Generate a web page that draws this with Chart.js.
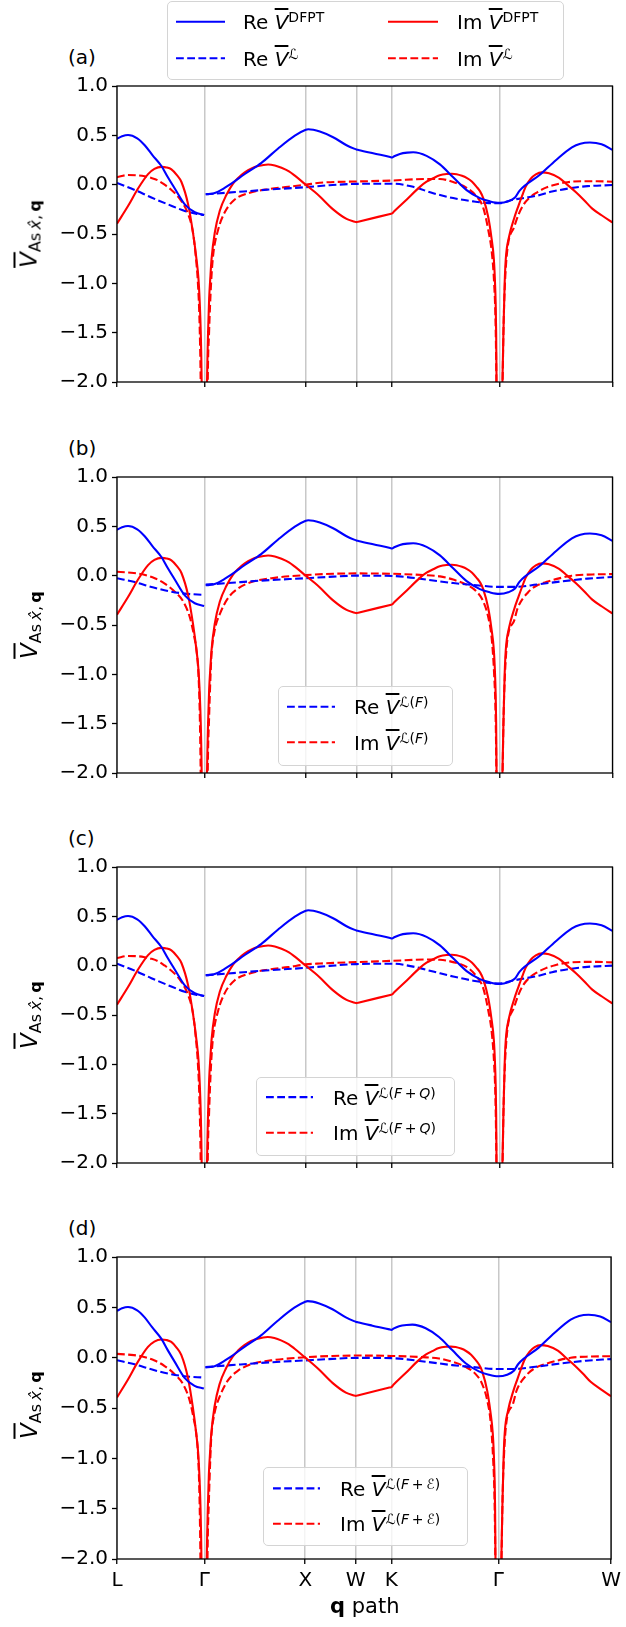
<!DOCTYPE html>
<html>
<head>
<meta charset="utf-8">
<script src="https://cdn.jsdelivr.net/npm/chart.js@4.4.1/dist/chart.umd.min.js"></script>
<style>
  html,body{margin:0;padding:0;background:#fff;}
  #page{position:relative;width:626px;height:1627px;overflow:hidden;background:#fff;font-family:"DejaVu Sans",sans-serif;color:#000;}
  canvas{position:absolute;left:0;}
  .t{position:absolute;white-space:nowrap;line-height:1;font-family:"DejaVu Sans",sans-serif;color:#000;}
  .ov{font-style:italic;text-decoration:overline;text-decoration-thickness:1.6px;}
  .t sup{font-size:0.7em;position:relative;top:-0.5em;vertical-align:baseline;line-height:0;}
  .t sub{font-size:0.7em;position:relative;top:0.25em;vertical-align:baseline;line-height:0;}
  .lg{position:absolute;background:rgba(255,255,255,0.8);border:1px solid #d4d4d4;border-radius:5px;box-sizing:border-box;}
  svg{position:absolute;left:0;top:0;pointer-events:none;}
</style>
</head>
<body>
<div id="page"></div>
<script>
// ---------------- data ----------------
const tickPos = [0, 0.866, 1.866, 2.366, 2.720, 3.780, 4.898];
const tickLabels = ['L', 'Γ', 'X', 'W', 'K', 'Γ', 'W'];
const yTicks = [-2.0, -1.5, -1.0, -0.5, 0.0, 0.5, 1.0];
const panelLetters = ['(a)', '(b)', '(c)', '(d)'];

// DFPT (same in every panel)  [q, value]; null = break at Γ
const reDfpt = [[0,0.465],[0.05,0.49],[0.109,0.503],[0.2,0.47],[0.274,0.40],[0.35,0.30],[0.439,0.189],[0.5,0.08],[0.571,-0.039],[0.67,-0.2],[0.769,-0.28],[0.861,-0.307],[0.866,null],
  [0.877,-0.097],[0.95,-0.09],[1.0,-0.071],[1.06,-0.035],[1.13,0.01],[1.263,0.108],[1.428,0.221],[1.593,0.367],[1.758,0.497],[1.866,0.556],[1.89,0.562],[2.005,0.539],[2.136,0.481],[2.269,0.40],[2.35,0.363],[2.366,0.357],[2.385,0.352],[2.532,0.318],[2.70,0.281],[2.72,0.276],[2.74,0.288],[2.796,0.312],[2.87,0.325],[2.928,0.328],[3.06,0.292],[3.192,0.205],[3.323,0.075],[3.456,-0.055],[3.587,-0.136],[3.686,-0.169],[3.78,-0.185],[3.867,-0.169],[3.934,-0.13],[3.98,-0.06],[4.18,0.10],[4.338,0.248],[4.497,0.378],[4.58,0.415],[4.675,0.427],[4.79,0.41],[4.898,0.353]];
const imDfpt = [[0,-0.395],[0.109,-0.217],[0.208,-0.039],[0.307,0.107],[0.37,0.16],[0.439,0.18],[0.49,0.175],[0.538,0.156],[0.59,0.1],[0.637,0.027],[0.703,-0.2],[0.752,-0.494],[0.785,-0.75],[0.805,-0.95],[0.818,-1.2],[0.828,-1.5],[0.837,-2.0],[0.845,-3.0],[0.866,null],
  [0.88,-3.0],[0.89,-2.0],[0.90,-1.5],[0.911,-1.15],[0.924,-0.92],[0.934,-0.76],[0.966,-0.49],[1.016,-0.265],[1.082,-0.103],[1.147,0.01],[1.2,0.07],[1.263,0.124],[1.33,0.165],[1.395,0.189],[1.494,0.205],[1.56,0.195],[1.626,0.172],[1.7,0.135],[1.758,0.091],[1.866,0.0],[1.95,-0.07],[2.005,-0.12],[2.136,-0.25],[2.269,-0.347],[2.35,-0.375],[2.366,-0.38],[2.385,-0.375],[2.70,-0.297],[2.72,-0.292],[2.74,-0.27],[2.862,-0.152],[2.994,-0.022],[3.06,0.03],[3.126,0.065],[3.19,0.095],[3.258,0.108],[3.31,0.11],[3.357,0.106],[3.41,0.09],[3.456,0.069],[3.51,0.03],[3.555,-0.022],[3.59,-0.07],[3.62,-0.136],[3.67,-0.33],[3.70,-0.526],[3.725,-0.753],[3.735,-0.95],[3.743,-1.2],[3.748,-1.5],[3.752,-2.0],[3.758,-3.0],[3.78,null],
  [3.798,-3.0],[3.81,-2.0],[3.822,-1.4],[3.832,-1.0],[3.843,-0.753],[3.876,-0.526],[3.926,-0.34],[3.97,-0.21],[4.0,-0.125],[4.04,-0.02],[4.09,0.06],[4.14,0.105],[4.2,0.125],[4.27,0.115],[4.37,0.07],[4.45,0.0],[4.537,-0.077],[4.62,-0.16],[4.695,-0.24],[4.79,-0.31],[4.898,-0.383]];

// (a) long-range model
const reLa = [[0,0.017],[0.175,-0.054],[0.34,-0.13],[0.505,-0.2],[0.67,-0.266],[0.78,-0.295],[0.861,-0.307],[0.866,null],
  [0.877,-0.097],[1.098,-0.081],[1.428,-0.055],[1.866,-0.025],[2.1,-0.006],[2.366,0.008],[2.72,0.01],[2.928,-0.022],[3.126,-0.087],[3.323,-0.136],[3.521,-0.169],[3.653,-0.185],[3.78,-0.188],[3.917,-0.152],[4.05,-0.13],[4.18,-0.105],[4.3,-0.07],[4.457,-0.04],[4.65,-0.015],[4.898,-0.004]];
const imLa = [[0,0.075],[0.109,0.098],[0.2,0.095],[0.274,0.085],[0.34,0.068],[0.406,0.043],[0.47,0.0],[0.538,-0.054],[0.59,-0.105],[0.637,-0.168],[0.703,-0.298],[0.752,-0.49],[0.778,-0.72],[0.80,-1.0],[0.816,-1.4],[0.827,-2.0],[0.835,-3.0],[0.866,null],
  [0.89,-3.0],[0.897,-2.0],[0.91,-1.5],[0.93,-1.0],[0.95,-0.72],[0.999,-0.46],[1.065,-0.28],[1.164,-0.15],[1.296,-0.087],[1.494,-0.045],[1.692,-0.022],[1.866,0.0],[2.005,0.02],[2.366,0.032],[2.72,0.042],[3.06,0.058],[3.192,0.058],[3.323,0.026],[3.456,-0.032],[3.555,-0.12],[3.62,-0.233],[3.67,-0.46],[3.705,-0.688],[3.728,-1.0],[3.742,-1.4],[3.75,-2.0],[3.756,-3.0],[3.78,null],
  [3.80,-3.0],[3.812,-2.0],[3.822,-1.4],[3.835,-1.0],[3.859,-0.655],[3.926,-0.428],[3.97,-0.3],[4.02,-0.2],[4.08,-0.13],[4.15,-0.08],[4.24,-0.03],[4.33,0.0],[4.45,0.025],[4.6,0.035],[4.75,0.035],[4.898,0.03]];

// (b) L(F)
const reLb = [[0,-0.026],[0.175,-0.065],[0.34,-0.114],[0.505,-0.156],[0.67,-0.182],[0.861,-0.195],[0.866,null],
  [0.877,-0.091],[1.098,-0.075],[1.428,-0.05],[1.866,-0.026],[2.136,-0.01],[2.366,0.0],[2.72,-0.003],[3.06,-0.04],[3.323,-0.075],[3.555,-0.097],[3.78,-0.114],[3.934,-0.114],[4.15,-0.09],[4.378,-0.06],[4.65,-0.03],[4.898,-0.013]];
const imLb = [[0,0.04],[0.109,0.032],[0.241,0.016],[0.373,-0.026],[0.472,-0.081],[0.571,-0.162],[0.654,-0.26],[0.72,-0.422],[0.763,-0.617],[0.785,-0.747],[0.805,-1.0],[0.818,-1.4],[0.827,-2.0],[0.835,-3.0],[0.866,null],
  [0.89,-3.0],[0.897,-2.0],[0.91,-1.45],[0.925,-1.0],[0.934,-0.8],[0.966,-0.552],[1.016,-0.39],[1.098,-0.227],[1.197,-0.13],[1.329,-0.065],[1.527,-0.026],[1.866,0.006],[2.136,0.019],[2.366,0.023],[2.72,0.019],[3.027,0.006],[3.192,-0.007],[3.323,-0.04],[3.456,-0.091],[3.555,-0.162],[3.62,-0.26],[3.67,-0.422],[3.705,-0.649],[3.728,-1.0],[3.742,-1.4],[3.75,-2.0],[3.756,-3.0],[3.78,null],
  [3.80,-3.0],[3.812,-2.0],[3.822,-1.4],[3.835,-1.0],[3.859,-0.649],[3.926,-0.455],[3.96,-0.33],[4.062,-0.17],[4.15,-0.1],[4.26,-0.06],[4.38,-0.025],[4.497,0.0],[4.7,0.012],[4.898,0.016]];

// (c) L(F+Q)
const reLc = [[0,0.02],[0.175,-0.05],[0.34,-0.127],[0.505,-0.198],[0.67,-0.264],[0.78,-0.294],[0.861,-0.307],[0.866,null],
  [0.877,-0.097],[1.098,-0.079],[1.428,-0.052],[1.866,-0.022],[2.1,-0.002],[2.366,0.016],[2.72,0.02],[2.928,-0.01],[3.126,-0.06],[3.323,-0.11],[3.521,-0.152],[3.653,-0.172],[3.78,-0.182],[3.917,-0.15],[4.05,-0.125],[4.18,-0.1],[4.3,-0.066],[4.457,-0.036],[4.65,-0.012],[4.898,0.0]];
const imLc = [[0,0.078],[0.109,0.098],[0.2,0.096],[0.274,0.086],[0.34,0.07],[0.406,0.045],[0.47,0.002],[0.538,-0.052],[0.59,-0.103],[0.637,-0.166],[0.703,-0.296],[0.752,-0.488],[0.778,-0.72],[0.80,-1.0],[0.816,-1.4],[0.827,-2.0],[0.835,-3.0],[0.866,null],
  [0.89,-3.0],[0.897,-2.0],[0.91,-1.5],[0.93,-1.0],[0.95,-0.72],[0.999,-0.46],[1.065,-0.278],[1.164,-0.148],[1.296,-0.084],[1.494,-0.04],[1.692,-0.015],[1.866,0.013],[2.005,0.022],[2.366,0.036],[2.72,0.049],[3.06,0.062],[3.192,0.06],[3.323,0.036],[3.456,-0.013],[3.555,-0.11],[3.62,-0.228],[3.67,-0.455],[3.705,-0.685],[3.728,-1.0],[3.742,-1.4],[3.75,-2.0],[3.756,-3.0],[3.78,null],
  [3.80,-3.0],[3.812,-2.0],[3.822,-1.4],[3.835,-1.0],[3.859,-0.65],[3.926,-0.42],[3.97,-0.29],[4.02,-0.19],[4.08,-0.12],[4.15,-0.07],[4.24,-0.025],[4.33,0.005],[4.45,0.03],[4.6,0.038],[4.75,0.038],[4.898,0.033]];

// (d) L(F+E)
const reLd = [[0,-0.026],[0.175,-0.066],[0.34,-0.116],[0.505,-0.158],[0.67,-0.184],[0.861,-0.198],[0.866,null],
  [0.877,-0.093],[1.098,-0.077],[1.428,-0.052],[1.866,-0.027],[2.136,-0.012],[2.366,-0.002],[2.72,-0.005],[3.06,-0.04],[3.323,-0.074],[3.555,-0.096],[3.78,-0.113],[3.934,-0.113],[4.15,-0.09],[4.378,-0.06],[4.65,-0.03],[4.898,-0.014]];
const imLd = [[0,0.038],[0.109,0.03],[0.241,0.014],[0.373,-0.028],[0.472,-0.083],[0.571,-0.164],[0.654,-0.262],[0.72,-0.424],[0.763,-0.62],[0.785,-0.75],[0.805,-1.0],[0.818,-1.4],[0.827,-2.0],[0.835,-3.0],[0.866,null],
  [0.89,-3.0],[0.897,-2.0],[0.91,-1.45],[0.925,-1.0],[0.934,-0.8],[0.966,-0.555],[1.016,-0.392],[1.098,-0.228],[1.197,-0.131],[1.329,-0.066],[1.527,-0.027],[1.866,0.004],[2.136,0.017],[2.366,0.021],[2.72,0.017],[3.027,0.005],[3.192,-0.008],[3.323,-0.041],[3.456,-0.092],[3.555,-0.163],[3.62,-0.262],[3.67,-0.424],[3.705,-0.65],[3.728,-1.0],[3.742,-1.4],[3.75,-2.0],[3.756,-3.0],[3.78,null],
  [3.80,-3.0],[3.812,-2.0],[3.822,-1.4],[3.835,-1.0],[3.859,-0.65],[3.926,-0.456],[3.96,-0.33],[4.062,-0.17],[4.15,-0.1],[4.26,-0.06],[4.38,-0.025],[4.497,0.0],[4.7,0.011],[4.898,0.015]];

// ---------------- layout ----------------
const BLUE = '#0000ff', RED = '#ff0000';
const DASH = [7.8, 3.4];
const LW = 2.1;
const plotLeft = 117, plotRight = 612.5, plotH = 308;
const panelTops = [80, 471, 861, 1251];
const panelDash = [[reLa, imLa], [reLb, imLb], [reLc, imLc], [reLd, imLd]];

const page = document.getElementById('page');

const framePlugin = {
  id: 'frame',
  afterDatasetsDraw(chart) {
    const a = chart.chartArea, ctx = chart.ctx;
    ctx.save();
    ctx.strokeStyle = '#000';
    ctx.lineWidth = 1.3;
    ctx.strokeRect(a.left, a.top, a.right - a.left, a.bottom - a.top);
    ctx.restore();
  }
};

function ds(pairs, color, dashed) {
  return {
    data: pairs.map(p => ({x: p[0], y: p[1]})),
    borderColor: color, borderWidth: LW, borderDash: dashed ? DASH : [],
    pointRadius: 0, cubicInterpolationMode: 'monotone', fill: false, spanGaps: false, clip: 0,
    borderCapStyle: 'butt', borderJoinStyle: 'round'
  };
}

function fmtY(v) {
  const s = Math.abs(v).toFixed(1);
  return (v < -1e-9 ? '\u2212' : '') + s;
}

panelTops.forEach((top, i) => {
  const last = i === 3;
  const bottomSpace = last ? 45 : 10;
  const cv = document.createElement('canvas');
  const H = 10 + plotH + bottomSpace;
  cv.width = 626; cv.height = H;
  cv.style.top = (top - 10) + 'px';
  cv.style.width = '626px'; cv.style.height = H + 'px';
  page.appendChild(cv);
  const [reL, imL] = panelDash[i];
  new Chart(cv.getContext('2d'), {
    type: 'line',
    data: { datasets: [
      ds(reDfpt, BLUE, false), ds(imDfpt, RED, false),
      ds(reL, BLUE, true), ds(imL, RED, true)
    ]},
    options: {
      responsive: false, animation: false, devicePixelRatio: 1,
      layout: { padding: { top: 10, right: 626 - plotRight, left: 0, bottom: 0 } },
      plugins: { legend: { display: false }, tooltip: { enabled: false } },
      scales: {
        x: {
          type: 'linear', min: tickPos[0], max: tickPos[tickPos.length - 1],
          afterBuildTicks: s => { s.ticks = tickPos.map(v => ({ value: v })); },
          afterFit: s => { s.height = bottomSpace; },
          ticks: { display: last, autoSkip: false, maxRotation: 0, padding: 5,
                   color: '#000', font: { family: 'DejaVu Sans', size: 20 },
                   callback: (v, idx) => tickLabels[idx] },
          grid: { color: '#c8c8c8', lineWidth: 1.5, tickColor: '#000', tickLength: 5, tickWidth: 1.3 },
          border: { display: false }
        },
        y: {
          type: 'linear', min: yTicks[0], max: yTicks[yTicks.length - 1],
          afterBuildTicks: s => { s.ticks = yTicks.map(v => ({ value: v })); },
          afterFit: s => { s.width = plotLeft; },
          ticks: { padding: 4, color: '#000', font: { family: 'DejaVu Sans', size: 20 },
                   callback: v => fmtY(v) },
          grid: { drawOnChartArea: false, tickColor: '#000', tickLength: 5, tickWidth: 1.3 },
          border: { display: false }
        }
      }
    },
    plugins: [framePlugin]
  });
});

// ---------------- text helpers ----------------
function addText(html, left, baseline, size, center) {
  const d = document.createElement('div');
  d.className = 't';
  d.style.fontSize = size + 'px';
  d.innerHTML = html;
  d.style.left = left + 'px';
  d.style.top = (baseline - 0.846 * size) + 'px';
  if (center) d.style.transform = 'translateX(-50%)';
  page.appendChild(d);
  return d;
}

// y-axis labels and panel letters
panelTops.forEach((top, i) => {
  const d = document.createElement('div');
  d.className = 't';
  d.style.fontSize = '23px';
  d.innerHTML = '<span class="ov">V</span><sub>As\u2009<i>x\u0302</i>,\u2009<b>q</b></sub>';
  d.style.left = '29px';
  d.style.top = (top + plotH / 2) + 'px';
  d.style.transform = 'translate(-50%,-50%) rotate(-90deg)';
  page.appendChild(d);
  addText(panelLetters[i], 68, top - 16, 20, false);
});

// x-axis title
addText('<b>q</b> path', (plotLeft + plotRight) / 2, 1614, 21, true);

// ---------------- legends ----------------
const svgNS = 'http://www.w3.org/2000/svg';
function legendBox(l, t, r, b) {
  const d = document.createElement('div');
  d.className = 'lg';
  d.style.left = l + 'px'; d.style.top = t + 'px';
  d.style.width = (r - l) + 'px'; d.style.height = (b - t) + 'px';
  page.appendChild(d);
}
const svg = document.createElementNS(svgNS, 'svg');
svg.setAttribute('width', '626'); svg.setAttribute('height', '1627');

const legendItems = [];
const addTextLater = [];
function legendEntry(x1, x2, y, color, dashed, html, textLeft) {
  legendItems.push({x1, x2, y, color, dashed});
  addTextLater.push([html, textLeft, y + 7.6]);
}

// (a)
legendBox(167, 1, 564, 80);
legendEntry(176, 225, 21.7, BLUE, false, 'Re <span class="ov">V</span><sup>DFPT</sup>', 243);
legendEntry(176, 225, 58.3, BLUE, true, 'Re <span class="ov">V</span><sup>ℒ</sup>', 243);
legendEntry(388, 438, 21.7, RED, false, 'Im <span class="ov">V</span><sup>DFPT</sup>', 457);
legendEntry(388, 438, 58.3, RED, true, 'Im <span class="ov">V</span><sup>ℒ</sup>', 457);
// (b)
legendBox(278, 686, 453, 766);
legendEntry(287, 335, 706.7, BLUE, true, 'Re <span class="ov">V</span><sup>ℒ(<i>F</i>)</sup>', 354);
legendEntry(287, 335, 742.3, RED, true, 'Im <span class="ov">V</span><sup>ℒ(<i>F</i>)</sup>', 354);
// (c)
legendBox(256, 1076.5, 455, 1156);
legendEntry(266, 313, 1097.1, BLUE, true, 'Re <span class="ov">V</span><sup>ℒ(<i>F</i>\u2009+\u2009<i>Q</i>)</sup>', 333);
legendEntry(266, 313, 1132.7, RED, true, 'Im <span class="ov">V</span><sup>ℒ(<i>F</i>\u2009+\u2009<i>Q</i>)</sup>', 333);
// (d)
legendBox(263, 1466.7, 468, 1546);
legendEntry(273, 320, 1488.4, BLUE, true, 'Re <span class="ov">V</span><sup>ℒ(<i>F</i>\u2009+\u2009<i>ℰ</i>)</sup>', 340);
legendEntry(273, 320, 1523.8, RED, true, 'Im <span class="ov">V</span><sup>ℒ(<i>F</i>\u2009+\u2009<i>ℰ</i>)</sup>', 340);

legendItems.forEach(it => {
  const ln = document.createElementNS(svgNS, 'line');
  ln.setAttribute('x1', it.x1); ln.setAttribute('x2', it.x2);
  ln.setAttribute('y1', it.y); ln.setAttribute('y2', it.y);
  ln.setAttribute('stroke', it.color); ln.setAttribute('stroke-width', LW);
  if (it.dashed) ln.setAttribute('stroke-dasharray', DASH.join(' '));
  svg.appendChild(ln);
});
page.appendChild(svg);
addTextLater.forEach(a => addText(a[0], a[1], a[2], 20, false));
</script>
</body>
</html>
